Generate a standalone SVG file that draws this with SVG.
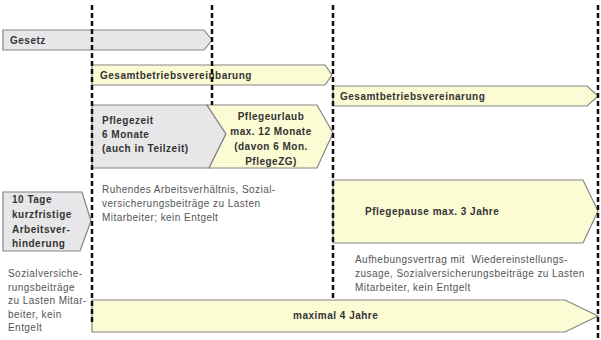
<svg xmlns="http://www.w3.org/2000/svg" width="601" height="340" viewBox="0 0 601 340">
<style>
.g{fill:#e7e7e9;stroke:#858585;stroke-width:1.2}
.y{fill:#fbfbd4;stroke:#858585;stroke-width:1.2}
.b{font-family:"Liberation Sans",Arial,sans-serif;font-size:10px;font-weight:bold;fill:#333;letter-spacing:0.5px}
.t{font-family:"Liberation Sans",Arial,sans-serif;font-size:10px;fill:#555;letter-spacing:0.45px}
.d{stroke:#111;stroke-width:2.5;stroke-dasharray:5,3;fill:none}
</style>
<rect width="601" height="340" fill="#fff"/>
<g id="gesetz">
<polygon class="g" points="3,30 204,30 212,40 204,50 3,50"/>
<text class="b" x="10" y="44">Gesetz</text>
</g>
<g id="gbv1">
<polygon class="y" points="92,65 325,65 332,75 325,85 92,85"/>
<text class="b" x="100" y="79">Gesamtbetriebsvereinbarung</text>
</g>
<g id="gbv2">
<polygon class="y" points="333,86 587,86 598,96 587,106 333,106"/>
<text class="b" x="340" y="100">Gesamtbetriebsvereinarung</text>
</g>
<g id="pflegezeit">
<polygon class="g" points="92,105 207,105 226,134 209,168 92,168"/>
<text class="b" x="102" y="124">Pflegezeit</text>
<text class="b" x="102" y="138">6 Monate</text>
<text class="b" x="102" y="152">(auch in Teilzeit)</text>
</g>
<g id="pflegeurlaub">
<polygon class="y" points="207,105 317,105 333,133 317,168 209,168 226,134"/>
<text class="b" x="271" y="120" text-anchor="middle">Pflegeurlaub</text>
<text class="b" x="271" y="135" text-anchor="middle">max. 12 Monate</text>
<text class="b" x="271" y="150" text-anchor="middle">(davon 6 Mon.</text>
<text class="b" x="271" y="165" text-anchor="middle">PflegeZG)</text>
</g>
<g id="ruhend">
<text class="t" x="102" y="193">Ruhendes Arbeitsverhältnis, Sozial-</text>
<text class="t" x="102" y="207">versicherungsbeiträge zu Lasten</text>
<text class="t" x="102" y="221">Mitarbeiter; kein Entgelt</text>
</g>
<g id="zehntage">
<polygon class="g" points="3,192 82,192 91,221 80,251 3,251"/>
<text class="b" x="12" y="203">10 Tage</text>
<text class="b" x="12" y="218">kurzfristige</text>
<text class="b" x="12" y="233">Arbeitsver-</text>
<text class="b" x="12" y="247">hinderung</text>
</g>
<g id="sozial">
<text class="t" x="8" y="277">Sozialversiche-</text>
<text class="t" x="8" y="291">rungsbeiträge</text>
<text class="t" x="8" y="304">zu Lasten Mitar-</text>
<text class="t" x="8" y="318">beiter, kein</text>
<text class="t" x="8" y="331">Entgelt</text>
</g>
<g id="pflegepause">
<polygon class="y" points="333,180 583,180 598,211 583,243 333,243"/>
<text class="b" x="365" y="215">Pflegepause max. 3 Jahre</text>
</g>
<g id="aufhebung">
<text class="t" x="355" y="263" xml:space="preserve">Aufhebungsvertrag mit  Wiedereinstellungs-</text>
<text class="t" x="355" y="277">zusage, Sozialversicherungsbeiträge zu Lasten</text>
<text class="t" x="355" y="291">Mitarbeiter, kein Entgelt</text>
</g>
<g id="maximal">
<polygon class="y" points="92,300 565,300 598,316 565,332 92,332"/>
<text class="b" x="293" y="319">maximal 4 Jahre</text>
</g>
<g id="connectors">
<line class="d" x1="92" y1="5" x2="92" y2="325"/>
<line class="d" x1="212" y1="5" x2="212" y2="105"/>
<line class="d" x1="333" y1="5" x2="333" y2="298"/>
<line class="d" x1="598" y1="5" x2="598" y2="340"/>
</g>
</svg>
